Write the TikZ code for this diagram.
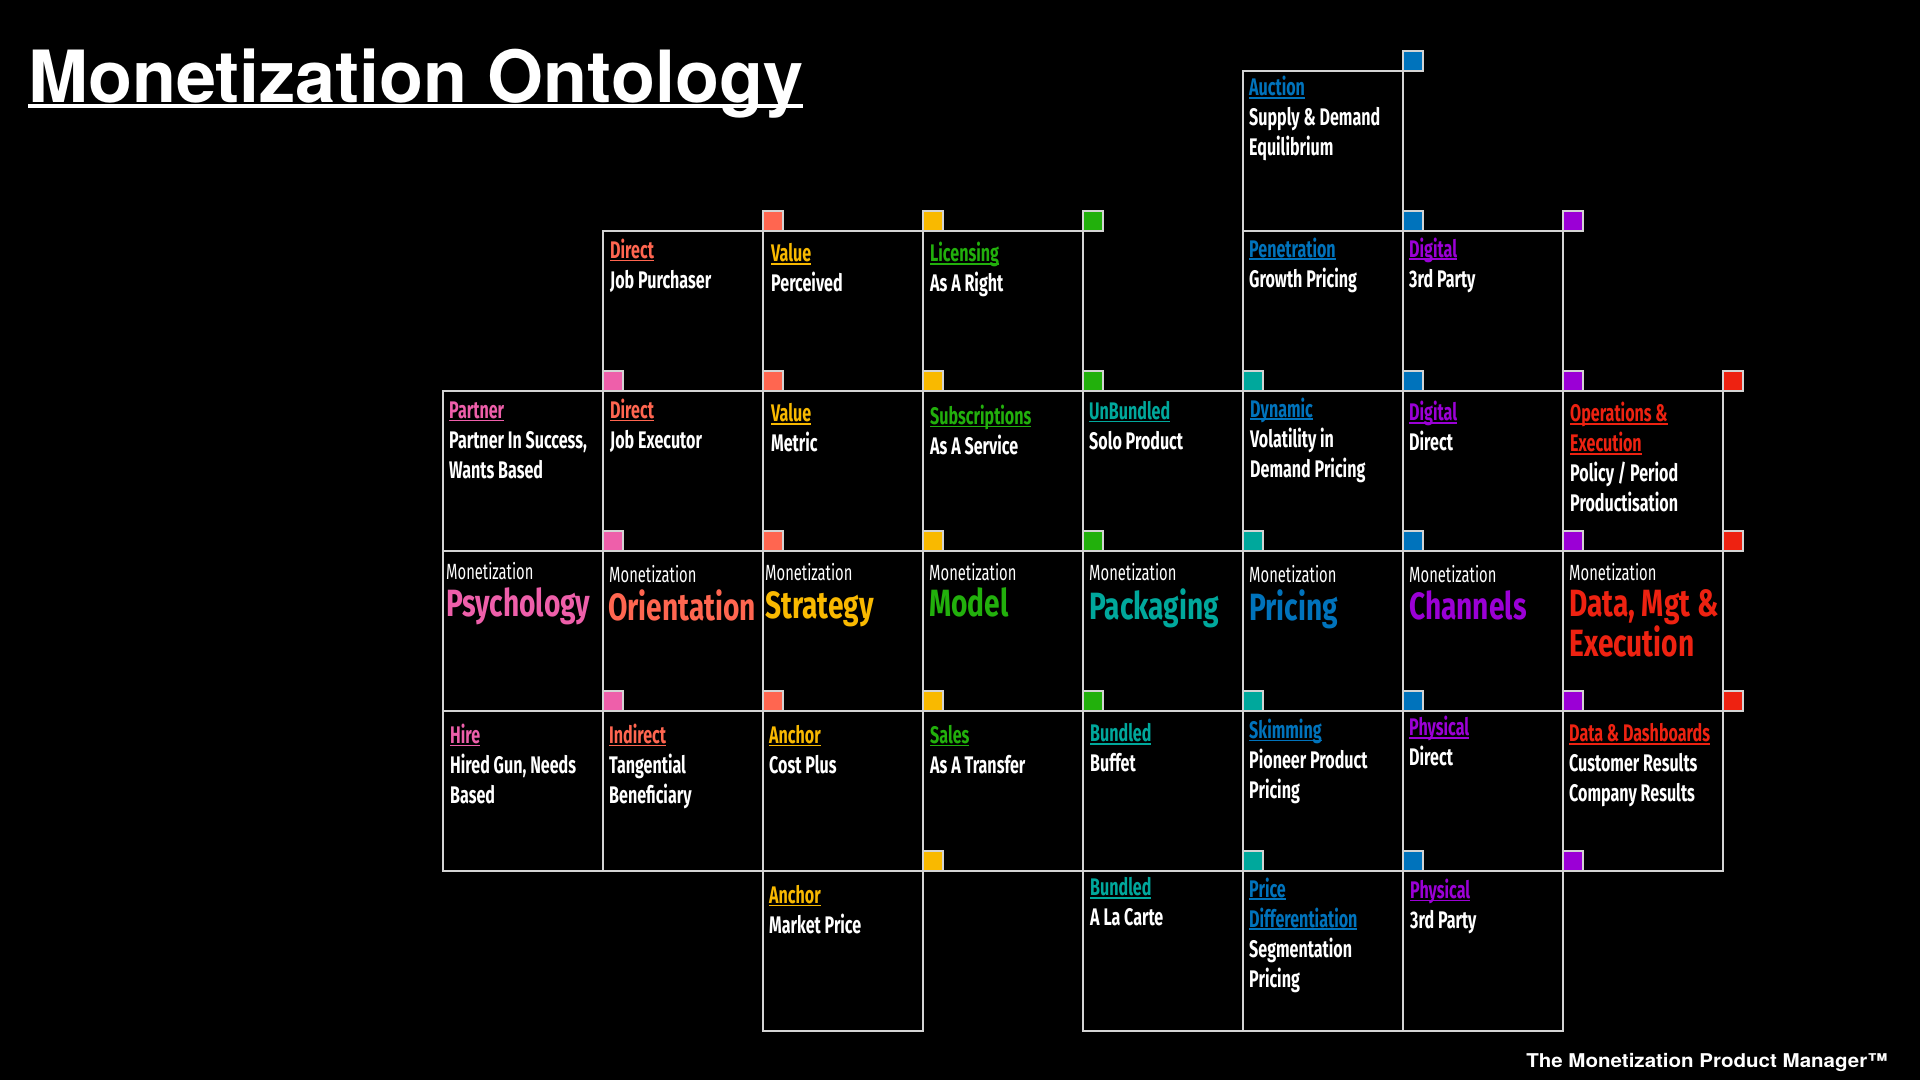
\documentclass[tikz,border=0pt]{standalone}
\usepackage{fontspec}
\usepackage{xcolor}
\newfontfamily\cellfont[FakeStretch=0.67]{Fira Sans}
\newfontfamily\bigfont[FakeStretch=0.74]{Fira Sans}
\newfontfamily\titlefont{TeX Gyre Heros}
\newfontfamily\brandfont[FakeStretch=1.08]{TeX Gyre Heros}

\definecolor{psy}{HTML}{EE5FAA}
\definecolor{ori}{HTML}{FF6650}
\definecolor{stg}{HTML}{F9B900}
\definecolor{mdl}{HTML}{22B00C}
\definecolor{pkg}{HTML}{00A89C}
\definecolor{prc}{HTML}{0073BC}
\definecolor{chn}{HTML}{9B00D6}
\definecolor{dme}{HTML}{EE2211}
\definecolor{gridgrey}{HTML}{D4D4D4}

% underline bar: depth, thickness, text
\newcommand{\ulbar}[3]{\setbox0\hbox{#3}\rlap{\rule[-#1]{\wd0}{#2}}\box0}
% coloured, underlined cell heading
\newcommand{\hd}[2]{{\color{#1}\rule{0pt}{20pt}\ulbar{3pt}{1.6pt}{#2}}}
% little coloured square sitting on a grid corner
\newcommand{\sqtag}[3]{\draw[gridgrey, line width=1.5pt, fill=#3] (#1,#2) rectangle ++(20,-20);}

\begin{document}
\begin{tikzpicture}[x=1pt,y=-1pt,
    cell/.style={draw=gridgrey, line width=2pt, anchor=north west, inner sep=0pt, outer sep=0pt, minimum width=160pt, minimum height=160pt},
    txt/.style={anchor=north west, inner sep=0pt, align=left, text=white, font=\cellfont\bfseries\fontsize{24}{30}\selectfont},
    tag/.style={anchor=north west, inner sep=0pt, text=white, font=\cellfont\fontsize{22}{26}\selectfont},
    big/.style={anchor=north west, inner sep=0pt, align=left, font=\bigfont\bfseries\fontsize{38}{38}\selectfont}]

    % Background
    \fill[black] (0,0) rectangle (1920,1080);
    \useasboundingbox (0,0) rectangle (1920,1080);

    % Title
    \node[anchor=base west, inner sep=0pt, text=white, font=\titlefont\bfseries\fontsize{72}{80}\selectfont] (title) at (28,102) {\ulbar{6pt}{4pt}{Monetization Ontology}};

    % Row 0
    \node[cell] (auc) at (1243,71) {};
    \node[txt] (auc-t) at ([shift={(6,4.5)}]auc.north west) {\hd{prc}{Auction}\\Supply \& Demand\\Equilibrium};

    % Row 1
    \node[cell] (jobp) at (603,231) {};
    \node[txt] (jobp-t) at ([shift={(7,7)}]jobp.north west) {\hd{ori}{Direct}\\Job Purchaser};
    \node[cell] (perc) at (763,231) {};
    \node[txt] (perc-t) at ([shift={(8,10.7)}]perc.north west) {\hd{stg}{Value}\\Perceived};
    \node[cell] (lic) at (923,231) {};
    \node[txt] (lic-t) at ([shift={(7,10.7)}]lic.north west) {\hd{mdl}{Licensing}\\As A Right};
    \node[cell] (pen) at (1243,231) {};
    \node[txt] (pen-t) at ([shift={(6,5.8)}]pen.north west) {\hd{prc}{Penetration}\\Growth Pricing};
    \node[cell] (dig3) at (1403,231) {};
    \node[txt] (dig3-t) at ([shift={(6,5.8)}]dig3.north west) {\hd{chn}{Digital}\\3rd Party};

    % Row 2
    \node[cell] (partner) at (443,391) {};
    \node[txt] (partner-t) at ([shift={(6,7)}]partner.north west) {\hd{psy}{Partner}\\Partner In Success,\\Wants Based};
    \node[cell] (jobe) at (603,391) {};
    \node[txt] (jobe-t) at ([shift={(7,7)}]jobe.north west) {\hd{ori}{Direct}\\Job Executor};
    \node[cell] (metric) at (763,391) {};
    \node[txt] (metric-t) at ([shift={(8,10.7)}]metric.north west) {\hd{stg}{Value}\\Metric};
    \node[cell] (subs) at (923,391) {};
    \node[txt] (subs-t) at ([shift={(7,13)}]subs.north west) {\hd{mdl}{Subscriptions}\\As A Service};
    \node[cell] (unb) at (1083,391) {};
    \node[txt] (unb-t) at ([shift={(6,8.2)}]unb.north west) {\hd{pkg}{UnBundled}\\Solo Product};
    \node[cell] (dyn) at (1243,391) {};
    \node[txt] (dyn-t) at ([shift={(7,5.8)}]dyn.north west) {\hd{prc}{Dynamic}\\Volatility in\\Demand Pricing};
    \node[cell] (digd) at (1403,391) {};
    \node[txt] (digd-t) at ([shift={(6,9.4)}]digd.north west) {\hd{chn}{Digital}\\Direct};
    \node[cell] (ops) at (1563,391) {};
    \node[txt] (ops-t) at ([shift={(7,10.7)}]ops.north west) {\hd{dme}{Operations \&}\\\hd{dme}{Execution}\\Policy / Period\\Productisation};

    % Row 3 - the Monetization pillars
    \node[cell] (psy) at (443,551) {};
    \node[tag] (psy-m) at ([shift={(3,10)}]psy.north west) {\rule{0pt}{18pt}Monetization};
    \node[big, text=psy] (psy-b) at ([shift={(3,35)}]psy.north west) {\rule{0pt}{30pt}Psychology};
    \node[cell] (ori) at (603,551) {};
    \node[tag] (ori-m) at ([shift={(6,13)}]ori.north west) {\rule{0pt}{18pt}Monetization};
    \node[big, text=ori] (ori-b) at ([shift={(5,38)}]ori.north west) {\rule{0pt}{30pt}Orientation};
    \node[cell] (stg) at (763,551) {};
    \node[tag] (stg-m) at ([shift={(2,11)}]stg.north west) {\rule{0pt}{18pt}Monetization};
    \node[big, text=stg] (stg-b) at ([shift={(2,37)}]stg.north west) {\rule{0pt}{30pt}Strategy};
    \node[cell] (mdl) at (923,551) {};
    \node[tag] (mdl-m) at ([shift={(6,11)}]mdl.north west) {\rule{0pt}{18pt}Monetization};
    \node[big, text=mdl] (mdl-b) at ([shift={(6,35)}]mdl.north west) {\rule{0pt}{30pt}Model};
    \node[cell] (pkg) at (1083,551) {};
    \node[tag] (pkg-m) at ([shift={(6,11)}]pkg.north west) {\rule{0pt}{18pt}Monetization};
    \node[big, text=pkg] (pkg-b) at ([shift={(6,37)}]pkg.north west) {\rule{0pt}{30pt}Packaging};
    \node[cell] (prc) at (1243,551) {};
    \node[tag] (prc-m) at ([shift={(6,13)}]prc.north west) {\rule{0pt}{18pt}Monetization};
    \node[big, text=prc] (prc-b) at ([shift={(6,38)}]prc.north west) {\rule{0pt}{30pt}Pricing};
    \node[cell] (chn) at (1403,551) {};
    \node[tag] (chn-m) at ([shift={(6,13)}]chn.north west) {\rule{0pt}{18pt}Monetization};
    \node[big, text=chn] (chn-b) at ([shift={(6,38)}]chn.north west) {\rule{0pt}{30pt}Channels};
    \node[cell] (dme) at (1563,551) {};
    \node[tag] (dme-m) at ([shift={(6,11)}]dme.north west) {\rule{0pt}{18pt}Monetization};
    \node[big, text=dme] (dme-b) at ([shift={(6,35)}]dme.north west) {\rule{0pt}{30pt}Data, Mgt \&\\Execution};

    % Row 4
    \node[cell] (hire) at (443,711) {};
    \node[txt] (hire-t) at ([shift={(7,12)}]hire.north west) {\hd{psy}{Hire}\\Hired Gun, Needs\\Based};
    \node[cell] (indir) at (603,711) {};
    \node[txt] (indir-t) at ([shift={(6,12)}]indir.north west) {\hd{ori}{Indirect}\\Tangential\\Beneficiary};
    \node[cell] (cost) at (763,711) {};
    \node[txt] (cost-t) at ([shift={(6,12)}]cost.north west) {\hd{stg}{Anchor}\\Cost Plus};
    \node[cell] (sales) at (923,711) {};
    \node[txt] (sales-t) at ([shift={(7,12)}]sales.north west) {\hd{mdl}{Sales}\\As A Transfer};
    \node[cell] (buffet) at (1083,711) {};
    \node[txt] (buffet-t) at ([shift={(7,10.7)}]buffet.north west) {\hd{pkg}{Bundled}\\Buffet};
    \node[cell] (skim) at (1243,711) {};
    \node[txt] (skim-t) at ([shift={(6,7)}]skim.north west) {\hd{prc}{Skimming}\\Pioneer Product\\Pricing};
    \node[cell] (phyd) at (1403,711) {};
    \node[txt] (phyd-t) at ([shift={(6,4.5)}]phyd.north west) {\hd{chn}{Physical}\\Direct};
    \node[cell] (data) at (1563,711) {};
    \node[txt] (data-t) at ([shift={(6,10.7)}]data.north west) {\hd{dme}{Data \& Dashboards}\\Customer Results\\Company Results};

    % Row 5
    \node[cell] (market) at (763,871) {};
    \node[txt] (market-t) at ([shift={(6,12)}]market.north west) {\hd{stg}{Anchor}\\Market Price};
    \node[cell] (carte) at (1083,871) {};
    \node[txt] (carte-t) at ([shift={(7,4.5)}]carte.north west) {\hd{pkg}{Bundled}\\A La Carte};
    \node[cell] (pdiff) at (1243,871) {};
    \node[txt] (pdiff-t) at ([shift={(6,5.8)}]pdiff.north west) {\hd{prc}{Price}\\\hd{prc}{Differentiation}\\Segmentation\\Pricing};
    \node[cell] (phy3) at (1403,871) {};
    \node[txt] (phy3-t) at ([shift={(7,7)}]phy3.north west) {\hd{chn}{Physical}\\3rd Party};

    % Corner squares
    \sqtag{1403}{71}{prc}
    \sqtag{763}{231}{ori} \sqtag{923}{231}{stg} \sqtag{1083}{231}{mdl}
    \sqtag{1403}{231}{prc} \sqtag{1563}{231}{chn}
    \foreach \y in {391,551,711} {
        \sqtag{603}{\y}{psy} \sqtag{763}{\y}{ori} \sqtag{923}{\y}{stg} \sqtag{1083}{\y}{mdl}
        \sqtag{1243}{\y}{pkg} \sqtag{1403}{\y}{prc} \sqtag{1563}{\y}{chn} \sqtag{1723}{\y}{dme}
    }
    \sqtag{923}{871}{stg} \sqtag{1243}{871}{pkg} \sqtag{1403}{871}{prc} \sqtag{1563}{871}{chn}

    % Footer
    \node[anchor=base east, inner sep=0pt, text=white, font=\brandfont\bfseries\fontsize{19}{21}\selectfont] (brand) at (1888,1067) {The Monetization Product Manager™};
\end{tikzpicture}
\end{document}
